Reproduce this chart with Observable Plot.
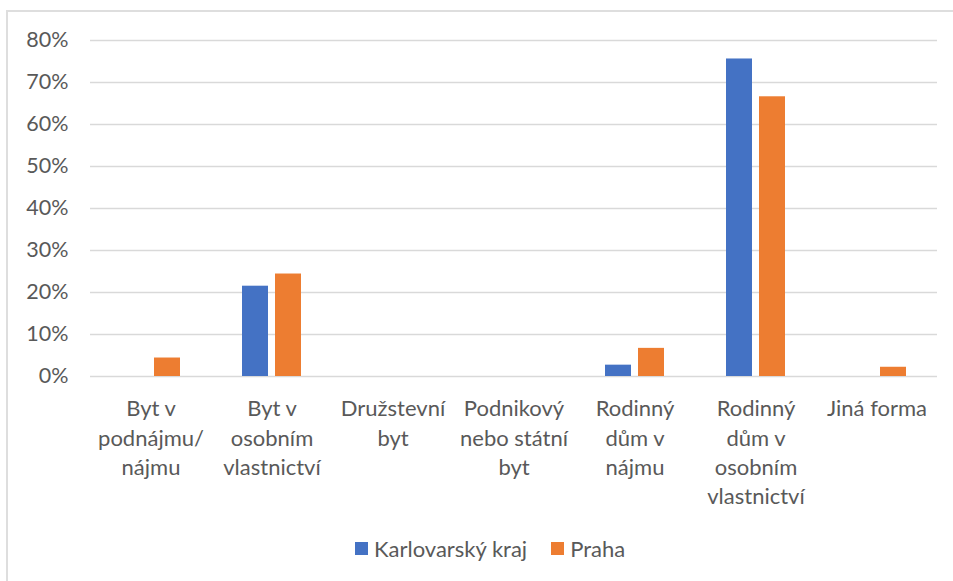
<!DOCTYPE html>
<html>
<head>
<meta charset="utf-8">
<script src="https://cdn.jsdelivr.net/npm/d3@7"></script>
<script src="https://cdn.jsdelivr.net/npm/@observablehq/plot@0.6"></script>
<style>
  html, body { margin: 0; padding: 0; background: #fff; }
  body { font-family: Lato, "Noto Sans", sans-serif; }
  #wrap { position: relative; width: 953px; height: 581px; overflow: hidden; }
  #frame { position: absolute; left: 6px; top: 10px; width: 960px; height: 600px; border: 2px solid #dedede; box-sizing: border-box; }
  #chart { position: absolute; left: 0; top: 0; }
  #legend { position: absolute; left: 355px; top: 532px; }
  .lg-swatches { margin: 0 !important; }
  .lg-swatch { margin-right: 24px !important; }
  .lg-swatch > svg { margin-right: 6px !important; }
</style>
</head>
<body>
<div id="wrap">
  <div id="frame"></div>
  <div id="chart"></div>
  <div id="legend"></div>
</div>
<script>
const categories = [
  "Byt v podnájmu/nájmu",
  "Byt v osobním vlastnictví",
  "Družstevní byt",
  "Podnikový nebo státní byt",
  "Rodinný dům v nájmu",
  "Rodinný dům v osobním vlastnictví",
  "Jiná forma"
];
const categoryLabels = [
  "Byt v\npodnájmu/\nnájmu",
  "Byt v\nosobním\nvlastnictví",
  "Družstevní\nbyt",
  "Podnikový\nnebo státní\nbyt",
  "Rodinný\ndům v\nnájmu",
  "Rodinný\ndům v\nosobním\nvlastnictví",
  "Jiná forma"
];
const series = ["Karlovarský kraj", "Praha"];
const karlovarskyValues = [0, 0.215, 0, 0, 0.027, 0.756, 0];
const prahaValues = [0.044, 0.244, 0, 0, 0.067, 0.666, 0.022];
const seriesColors = ["#4472C4", "#ED7D31"];
const yTicks = [0, 0.1, 0.2, 0.3, 0.4, 0.5, 0.6, 0.7, 0.8];

const rows = [];
categories.forEach((c, i) => {
  rows.push({category: c, series: series[0], value: karlovarskyValues[i]});
  rows.push({category: c, series: series[1], value: prahaValues[i]});
});

const chart = Plot.plot({
  width: 953,
  height: 530,
  marginTop: 40,
  marginBottom: 154,
  marginLeft: 88,
  marginRight: 15,
  style: {fontFamily: "Lato, 'Noto Sans', sans-serif", fontSize: "21.5px", color: "#595959", background: "transparent"},
  fx: {domain: categories, padding: 0, axis: null, label: null},
  x: {domain: series, paddingInner: 0.2, paddingOuter: 0.88, axis: null, label: null},
  y: {domain: [0, 0.8], ticks: yTicks, tickFormat: d3.format(".0%"), tickSize: 0, tickPadding: 22, label: null},
  color: {domain: series, range: seriesColors},
  marks: [
    Plot.ruleY(yTicks, {y: d => d, stroke: "#d9d9d9", strokeWidth: 1.3}),
    Plot.barY(rows, {fx: "category", x: "series", y: "value", fill: "series"}),
    Plot.text(categories, {
      fx: d => d,
      text: (d, i) => categoryLabels[i],
      frameAnchor: "bottom",
      lineAnchor: "top",
      lineHeight: 1.33,
      dy: 19,
      fill: "#595959",
      fontSize: 22
    })
  ]
});
document.getElementById("chart").appendChild(chart);

const legend = Plot.legend({
  color: {domain: series, range: seriesColors},
  swatchSize: 13,
  className: "lg",
  style: {fontFamily: "Lato, 'Noto Sans', sans-serif", fontSize: "22px", color: "#595959"}
});
document.getElementById("legend").appendChild(legend);
</script>
</body>
</html>
